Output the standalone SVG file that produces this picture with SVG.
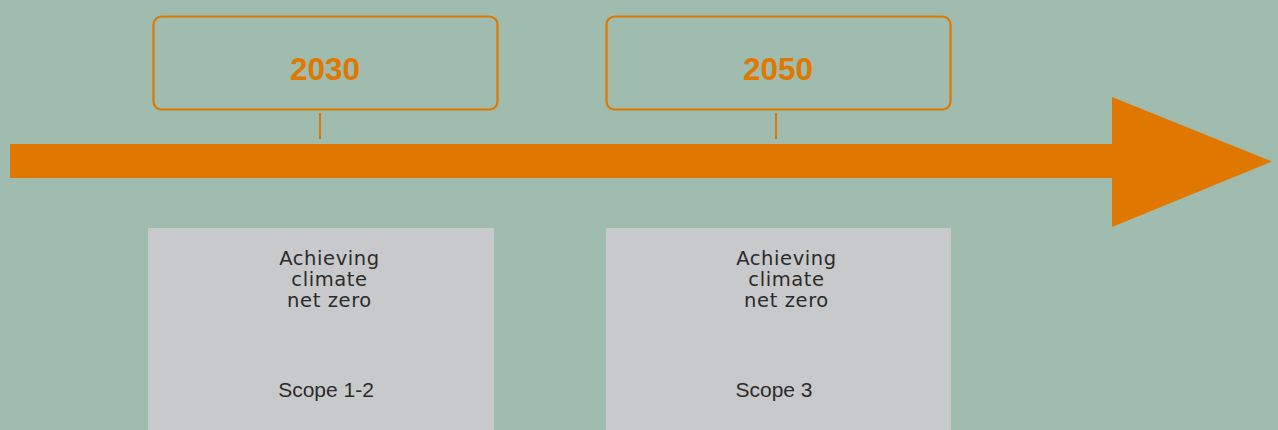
<svg xmlns="http://www.w3.org/2000/svg" width="1278" height="430" viewBox="0 0 1278 430">
<style>
.yearbox{fill:none;stroke:#e07800;stroke-width:2.2}
.year{font-family:"Liberation Sans",Arial,sans-serif;font-weight:bold;font-size:31.5px;fill:#e07800;text-anchor:middle}
.card{fill:#c8c9ca}
.goal{font-family:"DejaVu Sans","Noto Sans",sans-serif;font-size:19.5px;letter-spacing:0.6px;fill:#2b2b2b;text-anchor:middle}
.scope{font-family:"Liberation Sans",Arial,sans-serif;font-size:21px;fill:#2b2b2b;text-anchor:middle}
.tick{stroke:#e07800;stroke-width:2}
</style>
<rect width="1278" height="430" fill="#9fbcaf"/>
<g id="connectors">
<path d="M10 144 H1112 V97 L1272 161.5 L1112 227 V178 H10 Z" fill="#e07800"/>
<line class="tick" x1="320" y1="113" x2="320" y2="139"/>
<line class="tick" x1="776" y1="113" x2="776" y2="139"/>
</g>
<g id="year2030">
<rect class="yearbox" x="153.5" y="16.5" width="344" height="93" rx="8"/>
<text class="year" x="325" y="80">2030</text>
</g>
<g id="year2050">
<rect class="yearbox" x="606.5" y="16.5" width="344" height="93" rx="8"/>
<text class="year" x="778" y="80">2050</text>
</g>
<g id="card1">
<rect class="card" x="148" y="228" width="346" height="202"/>
<text class="goal" x="329"><tspan x="329.5" y="265">Achieving</tspan><tspan x="329.5" y="286">climate</tspan><tspan x="329.5" y="307">net zero</tspan></text>
<text class="scope" x="326" y="397">Scope 1-2</text>
</g>
<g id="card2">
<rect class="card" x="606" y="228" width="345" height="202"/>
<text class="goal" x="786"><tspan x="786.5" y="265">Achieving</tspan><tspan x="786.5" y="286">climate</tspan><tspan x="786.5" y="307">net zero</tspan></text>
<text class="scope" x="774" y="397">Scope 3</text>
</g>
</svg>
